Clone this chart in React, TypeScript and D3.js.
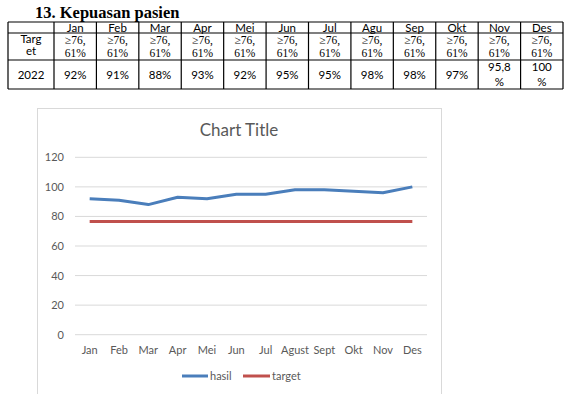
import React from 'react'
import * as d3 from 'd3'

const months = ['Jan', 'Feb', 'Mar', 'Apr', 'Mei', 'Jun', 'Jul', 'Agu', 'Sep', 'Okt', 'Nov', 'Des']
const chartMonths = ['Jan', 'Feb', 'Mar', 'Apr', 'Mei', 'Jun', 'Jul', 'Agust', 'Sept', 'Okt', 'Nov', 'Des']
const tableResults = [['92%'], ['91%'], ['88%'], ['93%'], ['92%'], ['95%'], ['95%'], ['98%'], ['98%'], ['97%'], ['95,8', '%'], ['100', '%']]
const hasil = [92, 91, 88, 93, 92, 95, 95, 98, 98, 97, 96, 100]
const target = [76.61, 76.61, 76.61, 76.61, 76.61, 76.61, 76.61, 76.61, 76.61, 76.61, 76.61, 76.61]
const yTicks = [0, 20, 40, 60, 80, 100, 120]

const W = 574
const H = 394

const sans = 'Lato, "Open Sans", sans-serif'
const serif = '"Liberation Serif", "DejaVu Serif", serif'

const Table: React.FC = () => {
  const colX = d3.scaleBand<string>().domain(months).range([54, 563])
  const rows = [22, 33, 60, 89]
  const left = 8
  const right = 563
  return (
    <g>
      <text x={35} y={18} fontFamily={serif} fontWeight="bold" fontSize={16.5}>13.  Kepuasan pasien</text>
      {rows.map(y => <line key={y} x1={left} x2={right} y1={y} y2={y} stroke="#000" strokeWidth={1.2} />)}
      {[left, ...months.map(m => colX(m) as number), right].map((x, i) => (
        <line key={i} x1={x} x2={x} y1={22} y2={89} stroke="#000" strokeWidth={1.2} />
      ))}
      <text textAnchor="middle" fontFamily={sans} fontSize={11.5}>
        <tspan x={31} y={43}>Targ</tspan>
        <tspan x={31} y={55}>et</tspan>
      </text>
      <text x={31} y={79} textAnchor="middle" fontFamily={sans} fontSize={11.5}>2022</text>
      {months.map((m, i) => {
        const cx = (colX(m) as number) + colX.bandwidth() / 2
        const res = tableResults[i]
        return (
          <g key={m}>
            <text x={cx} y={31.5} textAnchor="middle" fontFamily={sans} fontSize={11.5}>{m}</text>
            <text textAnchor="middle" fontFamily={serif} fontSize={11.5}>
              <tspan x={cx} y={44}>≥76,</tspan>
              <tspan x={cx} y={57}>61%</tspan>
            </text>
            {res.length === 1 ? (
              <text x={cx} y={79} textAnchor="middle" fontFamily={sans} fontSize={11.5}>{res[0]}</text>
            ) : (
              <text textAnchor="middle" fontFamily={sans} fontSize={11.5}>
                <tspan x={cx} y={71}>{res[0]}</tspan>
                <tspan x={cx} y={86}>{res[1]}</tspan>
              </text>
            )}
          </g>
        )
      })}
    </g>
  )
}

const Chart: React.FC = () => {
  const x = d3.scaleBand<string>().domain(chartMonths).range([75, 427])
  const y = d3.scaleLinear().domain([0, 120]).range([334.7, 157.3])
  const cx = (i: number) => (x(chartMonths[i]) as number) + x.bandwidth() / 2
  const line = d3.line<number>().x((_, i) => cx(i)).y(d => y(d))
  const grey = '#595959'
  return (
    <g>
      <rect x={37.5} y={108.5} width={404} height={300} fill="#fff" stroke="#d9d9d9" strokeWidth={1} />
      <text x={239} y={136} textAnchor="middle" fontFamily={sans} fontSize={17} fill={grey}>Chart Title</text>
      {yTicks.map(t => (
        <g key={t}>
          <line x1={75} x2={427} y1={y(t)} y2={y(t)} stroke="#d9d9d9" strokeWidth={1} />
          <text x={64} y={y(t) + 4} textAnchor="end" fontFamily={sans} fontSize={11} fill={grey}>{t}</text>
        </g>
      ))}
      {chartMonths.map((m, i) => (
        <text key={m} x={cx(i)} y={354} textAnchor="middle" fontFamily={sans} fontSize={11} fill={grey}>{m}</text>
      ))}
      <path d={line(target) || ''} fill="none" stroke="#C0504D" strokeWidth={3} />
      <path d={line(hasil) || ''} fill="none" stroke="#4A7EBB" strokeWidth={3} strokeLinejoin="round" />
      <line x1={182} x2={208} y1={376} y2={376} stroke="#4A7EBB" strokeWidth={3} />
      <text x={210} y={380} fontFamily={sans} fontSize={11} fill={grey}>hasil</text>
      <line x1={243} x2={270} y1={376} y2={376} stroke="#C0504D" strokeWidth={3} />
      <text x={272} y={380} fontFamily={sans} fontSize={11} fill={grey}>target</text>
    </g>
  )
}

export default function App() {
  return (
    <svg width={W} height={H} style={{ position: 'absolute', left: 0, top: 0, background: '#fff' }}>
      <rect width={W} height={H} fill="#fff" />
      <Table />
      <Chart />
    </svg>
  )
}
